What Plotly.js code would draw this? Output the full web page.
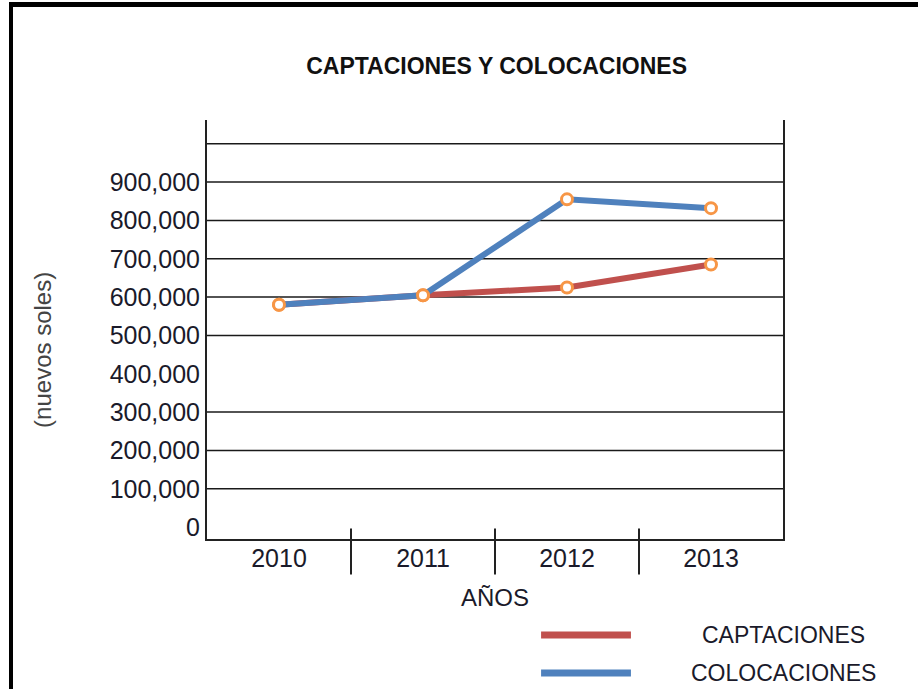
<!DOCTYPE html>
<html>
<head>
<meta charset="utf-8">
<script src="https://cdn.plot.ly/plotly-3.0.1.min.js"></script>
<style>
  html, body { margin: 0; padding: 0; background: #fff; overflow: hidden; }
  #chart { position: absolute; left: 0; top: 0; width: 918px; height: 689px; }
  #frame { position: absolute; left: 9px; top: 2px; width: 940px; height: 720px;
           border-left: 4px solid #000; border-top: 5px solid #000; pointer-events: none; }
</style>
</head>
<body>
<div id="chart"></div>
<div id="frame"></div>
<script>
// ---- data ----
const years = ["2010", "2011", "2012", "2013"];
const captaciones = [580000, 605000, 625000, 685000];
const colocaciones = [580000, 605000, 855000, 832000];
const seriesNames = ["CAPTACIONES", "COLOCACIONES"];
const yTickVals = [0, 100000, 200000, 300000, 400000, 500000, 600000, 700000, 800000, 900000];
const yTickText = ["0", "100,000", "200,000", "300,000", "400,000", "500,000", "600,000", "700,000", "800,000", "900,000"];
const gridVals = [100000, 200000, 300000, 500000, 600000, 700000, 800000, 900000, 1000000];

const RED = "#C0504D", BLUE = "#4F81BD", ORANGE = "#F79646";
const FONT = "Liberation Sans, Arial, sans-serif";
const TEXT = "#1a1a2a";

const markerStyle = { symbol: "circle", size: 11, color: "#ffffff", line: { color: ORANGE, width: 3 } };

const traces = [
  { x: years, y: captaciones, name: seriesNames[0], type: "scatter", mode: "lines+markers",
    line: { color: RED, width: 6 }, marker: markerStyle, showlegend: false },
  { x: years, y: colocaciones, name: seriesNames[1], type: "scatter", mode: "lines+markers",
    line: { color: BLUE, width: 6 }, marker: markerStyle, showlegend: false }
];

const shapes = [];
// horizontal gridlines
gridVals.forEach(v => shapes.push({
  type: "line", xref: "paper", yref: "y", x0: 0, x1: 1, y0: v, y1: v,
  line: { color: "#1a1a1a", width: 1.5 }, layer: "below"
}));
// category dividers crossing the x axis
for (let i = 0; i < years.length - 1; i++) {
  shapes.push({
    type: "line", xref: "x", yref: "paper", x0: i + 0.5, x1: i + 0.5, y0: -0.085, y1: 0.025,
    line: { color: "#222", width: 2 }
  });
}
// manual legend (line sample + label) below the plot
const legendColors = [RED, BLUE];
const legendRowY = [-0.229, -0.32];
const annotations = [];
seriesNames.forEach((n, i) => {
  shapes.push({ type: "line", xref: "paper", yref: "paper", x0: 0.58, x1: 0.736,
    y0: legendRowY[i], y1: legendRowY[i], line: { color: legendColors[i], width: 7 } });
  annotations.push({ xref: "paper", yref: "paper", x: 1.0, y: legendRowY[i],
    text: n, showarrow: false, xanchor: "center", yanchor: "middle",
    font: { family: FONT, size: 23, color: TEXT } });
});
// y-axis title
annotations.push({ xref: "paper", yref: "paper", x: -0.286, y: 0.452, textangle: -90,
  text: "(nuevos soles)", showarrow: false, xanchor: "center", yanchor: "middle",
  font: { family: FONT, size: 24, color: "#444" } });

const layout = {
  width: 918, height: 689,
  margin: { l: 207, r: 135, t: 120, b: 150 },
  paper_bgcolor: "#ffffff", plot_bgcolor: "#ffffff",
  title: { text: "<b>CAPTACIONES Y COLOCACIONES</b>", x: 0.541, xanchor: "center", y: 0.905, yanchor: "middle",
           font: { family: FONT, size: 23, color: "#111" } },
  xaxis: {
    type: "category", range: [-0.5, 3.5],
    showline: true, linecolor: "#222", linewidth: 2, mirror: false,
    showgrid: false, zeroline: false, ticks: "", ticklabelstandoff: -4,
    tickfont: { family: FONT, size: 25, color: TEXT },
    title: { text: "AÑOS", font: { family: FONT, size: 24, color: TEXT }, standoff: 18 }
  },
  yaxis: {
    range: [-31000, 1062000],
    tickvals: yTickVals, ticktext: yTickText,
    showline: true, linecolor: "#222", linewidth: 2, mirror: true,
    showgrid: false, zeroline: false, ticks: "",
    tickfont: { family: FONT, size: 25, color: TEXT }
  },
  shapes: shapes,
  annotations: annotations,
  showlegend: false
};

Plotly.newPlot("chart", traces, layout, { displayModeBar: false, staticPlot: true });
</script>
</body>
</html>
